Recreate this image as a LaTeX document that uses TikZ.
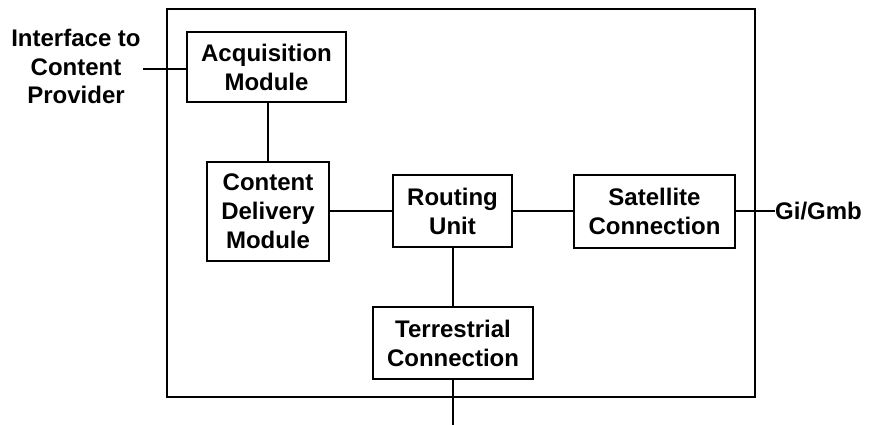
\documentclass[tikz,border=0pt]{standalone}
\usepackage{fontspec}
\setmainfont{Liberation Sans}
\begin{document}
\begin{tikzpicture}[x=1pt,y=-1pt,
  blk/.style={draw=black,line width=2pt,align=center,inner sep=0pt,
    font=\bfseries\fontsize{24}{29}\selectfont},
  lbl/.style={align=center,inner sep=0pt,font=\bfseries\fontsize{24}{28.5}\selectfont},
  wire/.style={line width=2pt}]
\useasboundingbox (0,0) rectangle (869,425);
\node[draw=black,line width=2pt,minimum width=588pt,minimum height=388pt,inner sep=0pt] (outer) at (461,203) {};
\node[blk,minimum width=159pt,minimum height=70pt] (acq) at (266.5,67) {Acquisition\\Module};
\node[blk,minimum width=122pt,minimum height=99pt] (cdm) at (268,211.5) {Content\\Delivery\\Module};
\node[blk,minimum width=119pt,minimum height=72pt] (rt) at (452.5,211) {Routing\\Unit};
\node[blk,minimum width=161pt,minimum height=73pt] (sat) at (654.5,211) {Satellite\\Connection};
\node[blk,minimum width=160pt,minimum height=72pt] (ter) at (453,343) {Terrestrial\\Connection};
\node[lbl] (ifc) at (76,66.5) {Interface to\\Content\\Provider};
\node[lbl,anchor=west] (gi) at (775,211) {Gi/Gmb};
\coordinate (ifcend) at (143,69);
\coordinate (bot) at (453,425);
\draw[wire] (ifcend) -- (ifcend -| acq.west);
\draw[wire] (cdm.north) -- (cdm.north |- acq.south);
\draw[wire] (cdm.east |- rt.west) -- (rt.west);
\draw[wire] (rt.east) -- (rt.east -| sat.west);
\draw[wire] (sat.east) -- (gi.west);
\draw[wire] (ter.north -| rt.south) -- (rt.south);
\draw[wire] (ter.south) -- (bot);
\end{tikzpicture}
\end{document}
